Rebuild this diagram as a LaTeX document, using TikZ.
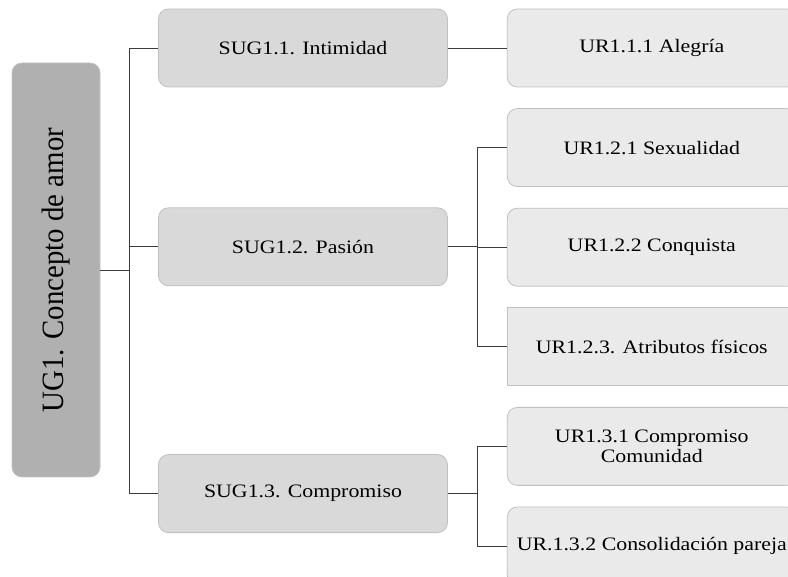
\documentclass[tikz,border=0pt]{standalone}
\usepackage{fontspec}
\setmainfont{Liberation Serif}[FakeStretch=1.15]
\newfontfamily\rootfont{Liberation Serif}[FakeStretch=0.93]
\usetikzlibrary{positioning,calc}
\definecolor{rootgray}{RGB}{176,176,176}
\definecolor{subgray}{RGB}{217,217,217}
\definecolor{urgray}{RGB}{234,234,234}
\definecolor{edgegray}{RGB}{192,192,192}
\definecolor{linkgray}{RGB}{60,60,60}

\begin{document}
\begin{tikzpicture}[x=1pt, y=1pt, node distance=20.8pt,
  box/.style = {draw=edgegray, line width=0.8pt, rounded corners=10pt, minimum width=289pt, minimum height=78pt, inner sep=2pt, align=center, font=\fontsize{19}{20}\selectfont},
  rootbox/.style = {box, fill=rootgray, rotate=90, minimum width=414pt, minimum height=88pt, font=\rootfont\fontsize{31}{33}\selectfont},
  subbox/.style = {box, fill=subgray},
  urbox/.style = {box, fill=urgray},
  link/.style = {linkgray, line width=0.9pt}]
\useasboundingbox (0,0) rectangle (788,-577);
\node[rootbox] (ug1) at (56,-270) {UG1. Concepto de amor};
\node[subbox] (sug11) at (303,-48) {SUG1.1. Intimidad};
\node[subbox, below=120pt of sug11] (sug12) {SUG1.2. Pasión};
\node[subbox, below=168pt of sug12] (sug13) {SUG1.3. Compromiso};
\node[urbox, right=59pt of sug11] (ur111) {UR1.1.1 Alegría};
\node[urbox, below=of ur111] (ur121) {UR1.2.1 Sexualidad};
\node[urbox, below=of ur121] (ur122) {UR1.2.2 Conquista};
\node[urbox, sharp corners, below=of ur122] (ur123) {UR1.2.3. Atributos físicos};
\node[urbox, below=of ur123] (ur131) {UR1.3.1 Compromiso\\Comunidad};
\node[urbox, below=of ur131] (ur132) {UR.1.3.2 Consolidación pareja};
% junctions
\coordinate (j1) at ($(ug1.south)!.5!(sug12.west |- ug1.south)$);
\coordinate (j2) at ($(sug12.east)!.5!(ur122.west |- sug12.east)$);
\coordinate (j3) at ($(sug13.east)!.5!(ur131.west |- sug13.east)$);
\foreach \s in {sug11,sug12,sug13}
  \draw[link] (ug1.south) -- (j1) |- (\s.west);
\draw[link] (sug11.east) -- (ur111.west);
\foreach \r in {ur121,ur122,ur123}
  \draw[link] (sug12.east) -- (j2) |- (\r.west);
\foreach \r in {ur131,ur132}
  \draw[link] (sug13.east) -- (j3) |- (\r.west);
\end{tikzpicture}
\end{document}
